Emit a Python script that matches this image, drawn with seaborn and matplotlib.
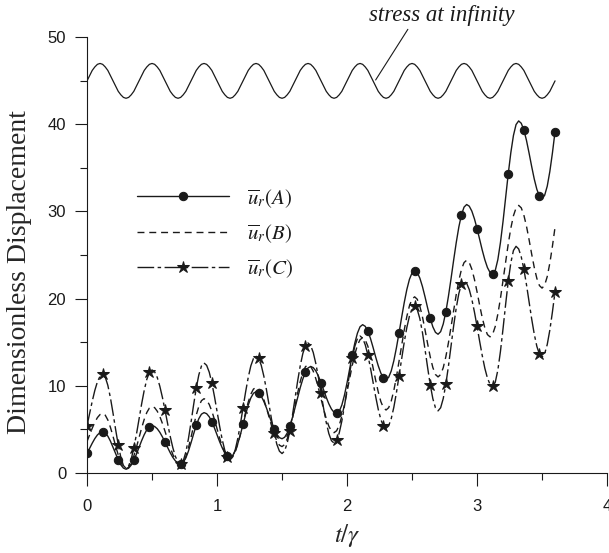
import numpy as np
import pandas as pd
import seaborn as sns
import matplotlib.pyplot as plt

# time axis t/gamma, sampled every 0.02
t = np.linspace(0, 3.6, 181)

# u_r(A)  (solid, circles)
u_a = [2.21, 2.80, 3.39, 3.92, 4.34, 4.61, 4.70,
       4.57, 4.20, 3.63, 2.92, 2.18, 1.48, 0.90, 0.53, 0.40,
       0.52, 0.88, 1.43, 2.13, 2.90, 3.68, 4.37, 4.93, 5.28, 5.40,
       5.31, 5.05, 4.64, 4.11, 3.51, 2.89, 2.29, 1.76, 1.35, 1.09, 1.00,
       1.18, 1.69, 2.48, 3.44, 4.46, 5.43, 6.21, 6.72, 6.90,
       6.78, 6.42, 5.85, 5.14, 4.35, 3.56, 2.85, 2.28, 1.92, 1.80,
       1.98, 2.51, 3.35, 4.39, 5.55, 6.71, 7.76, 8.59, 9.12, 9.30,
       9.17, 8.79, 8.19, 7.44, 6.60, 5.76, 5.01, 4.41, 4.03, 3.90,
       4.07, 4.56, 5.34, 6.33, 7.46, 8.64, 9.77, 10.76, 11.54, 12.03, 12.20,
       12.07, 11.69, 11.09, 10.34, 9.50, 8.66, 7.91, 7.31, 6.93, 6.80,
       7.04, 7.77, 8.90, 10.32, 11.90, 13.48, 14.90, 16.03, 16.76, 17.00,
       16.81, 16.26, 15.43, 14.40, 13.30, 12.28, 11.44, 10.89, 10.70,
       10.95, 11.69, 12.86, 14.36, 16.06, 17.84, 19.54, 21.04, 22.21, 22.95, 23.20,
       22.98, 22.35, 21.38, 20.19, 18.91, 17.73, 16.75, 16.12, 15.90,
       16.20, 17.08, 18.48, 20.27, 22.29, 24.41, 26.43, 28.22, 29.62, 30.50, 30.80,
       30.61, 30.04, 29.15, 28.04, 26.80, 25.56, 24.45, 23.56, 22.99, 22.80,
       23.22, 24.47, 26.43, 28.87, 31.60, 34.33, 36.77, 38.73, 39.98, 40.40,
       40.13, 39.36, 38.18, 36.72, 35.18, 33.73, 32.54, 31.77, 31.50,
       31.86, 32.91, 34.60, 36.74, 39.18]

# u_r(B)  (dashed)
u_b = [3.59, 4.35, 5.11, 5.79, 6.33, 6.68, 6.80,
       6.61, 6.06, 5.21, 4.18, 3.07, 2.04, 1.19, 0.64, 0.45,
       0.62, 1.13, 1.92, 2.92, 4.03, 5.13, 6.13, 6.92, 7.43, 7.60,
       7.47, 7.07, 6.45, 5.65, 4.75, 3.80, 2.90, 2.10, 1.48, 1.08, 0.95,
       1.18, 1.83, 2.84, 4.07, 5.38, 6.61, 7.62, 8.27, 8.50,
       8.33, 7.84, 7.08, 6.12, 5.05, 3.98, 3.02, 2.26, 1.77, 1.60,
       1.80, 2.38, 3.29, 4.43, 5.70, 6.97, 8.11, 9.02, 9.60, 9.80,
       9.64, 9.15, 8.40, 7.45, 6.40, 5.35, 4.40, 3.65, 3.16, 3.00,
       3.23, 3.89, 4.94, 6.24, 7.70, 9.16, 10.46, 11.51, 12.17, 12.40,
       12.21, 11.66, 10.79, 9.71, 8.50, 7.29, 6.21, 5.34, 4.79, 4.60,
       4.82, 5.46, 6.49, 7.79, 9.28, 10.82, 12.31, 13.61, 14.64, 15.28, 15.50,
       15.25, 14.53, 13.43, 12.07, 10.63, 9.28, 8.17, 7.45, 7.20,
       7.46, 8.23, 9.45, 11.01, 12.78, 14.62, 16.39, 17.95, 19.17, 19.94, 20.20,
       19.92, 19.12, 17.90, 16.40, 14.80, 13.30, 12.08, 11.28, 11.00,
       11.27, 12.06, 13.32, 14.93, 16.75, 18.65, 20.47, 22.08, 23.34, 24.13, 24.40,
       24.14, 23.37, 22.20, 20.77, 19.23, 17.80, 16.63, 15.86, 15.60,
       15.90, 16.79, 18.21, 20.02, 22.08, 24.22, 26.28, 28.09, 29.51, 30.40, 30.70,
       30.42, 29.59, 28.33, 26.78, 25.12, 23.58, 22.31, 21.49, 21.20,
       21.54, 22.53, 24.08, 26.03, 28.20]

# u_r(C)  (dash-dot, stars)
u_c = [5.41, 6.80, 8.20, 9.45, 10.45, 11.08, 11.30,
       10.98, 10.04, 8.60, 6.84, 4.96, 3.20, 1.76, 0.82, 0.50,
       0.77, 1.57, 2.83, 4.40, 6.15, 7.90, 9.47, 10.73, 11.53, 11.80,
       11.58, 10.95, 9.93, 8.64, 7.17, 5.63, 4.16, 2.87, 1.85, 1.22, 1.00,
       1.35, 2.36, 3.90, 5.79, 7.81, 9.70, 11.24, 12.25, 12.60,
       12.33, 11.55, 10.31, 8.77, 7.05, 5.33, 3.79, 2.55, 1.77, 1.50,
       1.79, 2.63, 3.95, 5.61, 7.45, 9.29, 10.95, 12.27, 13.11, 13.40,
       13.13, 12.34, 11.09, 9.54, 7.80, 6.06, 4.51, 3.26, 2.47, 2.20,
       2.50, 3.41, 4.82, 6.58, 8.55, 10.52, 12.28, 13.69, 14.60, 14.90,
       14.62, 13.81, 12.53, 10.93, 9.15, 7.37, 5.77, 4.49, 3.68, 3.40,
       3.70, 4.57, 5.93, 7.64, 9.55, 11.46, 13.17, 14.53, 15.40, 15.70,
       15.45, 14.69, 13.52, 12.04, 10.40, 8.76, 7.28, 6.11, 5.35, 5.10,
       5.38, 6.21, 7.52, 9.20, 11.11, 13.09, 15.00, 16.68, 17.99, 18.82, 19.10,
       18.74, 17.70, 16.10, 14.14, 12.06, 10.10, 8.50, 7.46, 7.10,
       7.46, 8.52, 10.17, 12.24, 14.55, 16.86, 18.93, 20.58, 21.64, 22.00,
       21.76, 21.04, 19.91, 18.45, 16.81, 15.09, 13.45, 11.99, 10.86, 10.14, 9.90,
       10.38, 11.78, 13.93, 16.55, 19.35, 21.98, 24.12, 25.52, 26.00,
       25.70, 24.79, 23.38, 21.62, 19.65, 17.68, 15.92, 14.51, 13.60, 13.30,
       13.66, 14.73, 16.39, 18.48, 20.80]

# applied stress at infinity (drawn shifted up to 45)
stress = [45.0, 45.6, 46.2, 46.6, 46.9, 47.0, 46.9, 46.6, 46.2, 45.6,
          45.0, 44.4, 43.8, 43.4, 43.1, 43.0, 43.1, 43.4, 43.8, 44.4,
          45.0, 45.6, 46.2, 46.6, 46.9, 47.0, 46.9, 46.6, 46.2, 45.6,
          45.0, 44.4, 43.8, 43.4, 43.1, 43.0, 43.1, 43.4, 43.8, 44.4,
          45.0, 45.6, 46.2, 46.6, 46.9, 47.0, 46.9, 46.6, 46.2, 45.6,
          45.0, 44.4, 43.8, 43.4, 43.1, 43.0, 43.1, 43.4, 43.8, 44.4,
          45.0, 45.6, 46.2, 46.6, 46.9, 47.0, 46.9, 46.6, 46.2, 45.6,
          45.0, 44.4, 43.8, 43.4, 43.1, 43.0, 43.1, 43.4, 43.8, 44.4,
          45.0, 45.6, 46.2, 46.6, 46.9, 47.0, 46.9, 46.6, 46.2, 45.6,
          45.0, 44.4, 43.8, 43.4, 43.1, 43.0, 43.1, 43.4, 43.8, 44.4,
          45.0, 45.6, 46.2, 46.6, 46.9, 47.0, 46.9, 46.6, 46.2, 45.6,
          45.0, 44.4, 43.8, 43.4, 43.1, 43.0, 43.1, 43.4, 43.8, 44.4,
          45.0, 45.6, 46.2, 46.6, 46.9, 47.0, 46.9, 46.6, 46.2, 45.6,
          45.0, 44.4, 43.8, 43.4, 43.1, 43.0, 43.1, 43.4, 43.8, 44.4,
          45.0, 45.6, 46.2, 46.6, 46.9, 47.0, 46.9, 46.6, 46.2, 45.6,
          45.0, 44.4, 43.8, 43.4, 43.1, 43.0, 43.1, 43.4, 43.8, 44.4,
          45.0, 45.6, 46.2, 46.6, 46.9, 47.0, 46.9, 46.6, 46.2, 45.6,
          45.0, 44.4, 43.8, 43.4, 43.1, 43.0, 43.1, 43.4, 43.8, 44.4,
          45.0]

df = pd.DataFrame({'t': t, 'A': u_a, 'B': u_b, 'C': u_c, 'stress': stress})

sns.set_theme(style='ticks')
plt.rcParams['font.family'] = ['Liberation Sans', 'DejaVu Sans']
plt.rcParams['mathtext.fontset'] = 'stix'
plt.rcParams['text.color'] = 'k'
plt.rcParams['xtick.color'] = 'k'
plt.rcParams['ytick.color'] = 'k'
plt.rcParams['axes.edgecolor'] = 'k'

fig = plt.figure(figsize=(6.09, 5.53), dpi=100)
ax = fig.add_axes([0.1429, 0.1452, 0.8539, 0.7873])

sns.lineplot(data=df, x='t', y='stress', ax=ax, color='k', lw=0.9, errorbar=None)
sns.lineplot(data=df, x='t', y='A', ax=ax, color='k', lw=1.0, marker='o', ms=6,
             mec='k', markevery=6, errorbar=None, label=r'$\overline{u}_r(A)$')
sns.lineplot(data=df, x='t', y='B', ax=ax, color='k', lw=1.0, linestyle=(0, (5, 3.5)),
             errorbar=None, label=r'$\overline{u}_r(B)$')
sns.lineplot(data=df, x='t', y='C', ax=ax, color='k', lw=1.0, linestyle=(0, (12, 2.5, 2.5, 2.5)),
             marker='*', ms=9, mec='k', markevery=6, errorbar=None, label=r'$\overline{u}_r(C)$')

ax.set_xlim(0, 4)
ax.set_ylim(0, 50)
ax.set_xticks([0, 1, 2, 3, 4])
ax.set_xticks([0.5, 1.5, 2.5, 3.5], minor=True)
ax.set_yticks([0, 10, 20, 30, 40, 50])
ax.set_yticks([5, 15, 25, 35, 45], minor=True)
ax.tick_params(which='major', length=9, width=0.8, direction='out', labelsize=12)
ax.tick_params(which='minor', length=5, width=0.8, direction='out')
ax.tick_params(axis='x', which='major', pad=10)
ax.tick_params(axis='y', which='major', pad=6)
sns.despine(ax=ax)
for s in ['left', 'bottom']:
    ax.spines[s].set_linewidth(0.8)

ax.set_xlabel(r'$t/\gamma$', fontsize=18, labelpad=6)
ax.set_ylabel('Dimensionless Displacement', family='Liberation Serif', fontsize=20)
ax.yaxis.set_label_coords(-0.105, 0.46)

ax.legend(loc='upper left', bbox_to_anchor=(0.0962, 0.657), frameon=False, fontsize=15,
          handlelength=4.4, handletextpad=0.9, labelspacing=0.6, borderpad=0, borderaxespad=0)

ax.annotate('stress at infinity', xy=(2.22, 45.1), xytext=(2.73, 52.5),
            ha='center', va='center', fontsize=16.5, fontstyle='italic',
            family='Liberation Serif', annotation_clip=False,
            arrowprops=dict(arrowstyle='-', color='k', lw=0.8, shrinkA=0, shrinkB=0,
                            relpos=(0.28, 0)))

fig.savefig('out.png', dpi=100)
